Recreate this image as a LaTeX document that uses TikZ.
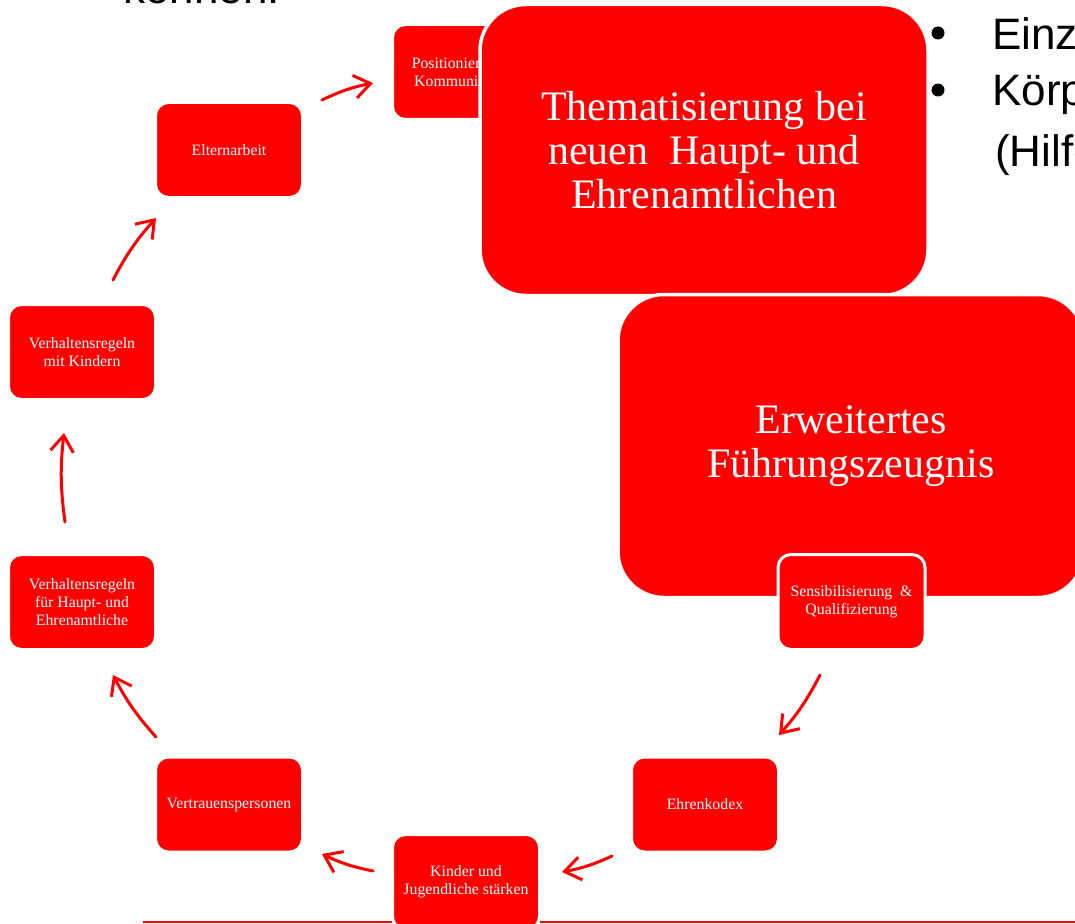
\documentclass[tikz,border=0pt]{standalone}
\usepackage{fontspec}
\setmainfont{Liberation Serif}
\newfontfamily\slidefont{Liberation Sans}
\usetikzlibrary{arrows.meta}
\definecolor{boxred}{RGB}{255,0,0}
\begin{document}
\begin{tikzpicture}[x=1pt,y=-1pt,
  card/.style={draw=white, line width=3pt, fill=boxred, rounded corners=13pt,
    minimum width=147pt, minimum height=95pt, inner sep=2pt, align=center,
    text=white, font=\fontsize{15.8}{17.8}\selectfont},
  bigcard/.style={draw=white, line width=3.5pt, fill=boxred, rounded corners=46pt,
    align=center, text=white, font=\fontsize{42}{44}\selectfont, inner sep=0pt},
  flow/.style={draw=boxred, line width=3pt, line cap=round,
    -{Straight Barb[length=16pt,width=23pt]}, bend left=7},
  slide/.style={font=\slidefont\fontsize{44}{50}\selectfont, anchor=base west,
    inner sep=0pt, text=black},
  dot/.style={circle, fill=black, inner sep=0pt, minimum size=13pt},
  rule/.style={draw=boxred, line width=2pt}
]
\useasboundingbox (0,0) rectangle (1075,923);
\clip (0,0) rectangle (1075,923);

% slide text around the graphic
\node[slide] (kon) at (123,4) {können.};
\node[dot] (b1) at (938,33) {};
\node[dot] (b2) at (938,90) {};
\node[slide] (t1) at (992,50) {Einze};
\node[slide] (t2) at (992,106) {Körpe};
\node[slide] (t3) at (995,166) {(Hilfe};

% rule along the bottom
\coordinate (rl) at (143,921.5);
\coordinate (rr) at (1080,921.5);
\draw[rule] (rl) -- (rr);

% cycle of measures
\node[card] (pos) at (466,72)    {Positionierung \&\\Kommunikation};
\node[card] (elt) at (229,150)   {Elternarbeit};
\node[card] (vmk) at (82,352)    {Verhaltensregeln\\mit Kindern};
\node[card] (vfh) at (82,602)    {Verhaltensregeln\\für Haupt- und\\Ehrenamtliche};
\node[card] (ver) at (229,804.5) {Vertrauenspersonen};
\node[card] (kin) at (466,882)   {Kinder und\\Jugendliche stärken};
\node[card] (ehr) at (705,804.5) {Ehrenkodex};

% large callouts
\node[bigcard, minimum width=448pt, minimum height=291pt] (them) at (704,150)
  {Thematisierung bei\\neuen\ \ Haupt- und\\Ehrenamtlichen};
\node[bigcard, minimum width=466pt, minimum height=303pt] (erw) at (851,446)
  {Erweitertes\\Führungszeugnis};
\node[card] (sen) at (851.5,602) {Sensibilisierung\ \ \&\\Qualifizierung};

% arrow ends
\coordinate (a1s) at (322,100);  \coordinate (a1e) at (373,83);
\coordinate (a2s) at (113,280);  \coordinate (a2e) at (156,218);
\coordinate (a3s) at (65,522);   \coordinate (a3e) at (64,433);
\coordinate (a4s) at (156,737);  \coordinate (a4e) at (113,675);
\coordinate (a5s) at (373,871);  \coordinate (a5e) at (322,854);
\coordinate (a6s) at (612,856);  \coordinate (a6e) at (562,872);
\coordinate (a7s) at (820,675);  \coordinate (a7e) at (779,735);

\draw[flow] (a1s) to (a1e);
\draw[flow] (a2s) to (a2e);
\draw[flow] (a3s) to (a3e);
\draw[flow] (a4s) to (a4e);
\draw[flow] (a5s) to (a5e);
\draw[flow] (a6s) to (a6e);
\draw[flow] (a7s) to (a7e);
\end{tikzpicture}
\end{document}
